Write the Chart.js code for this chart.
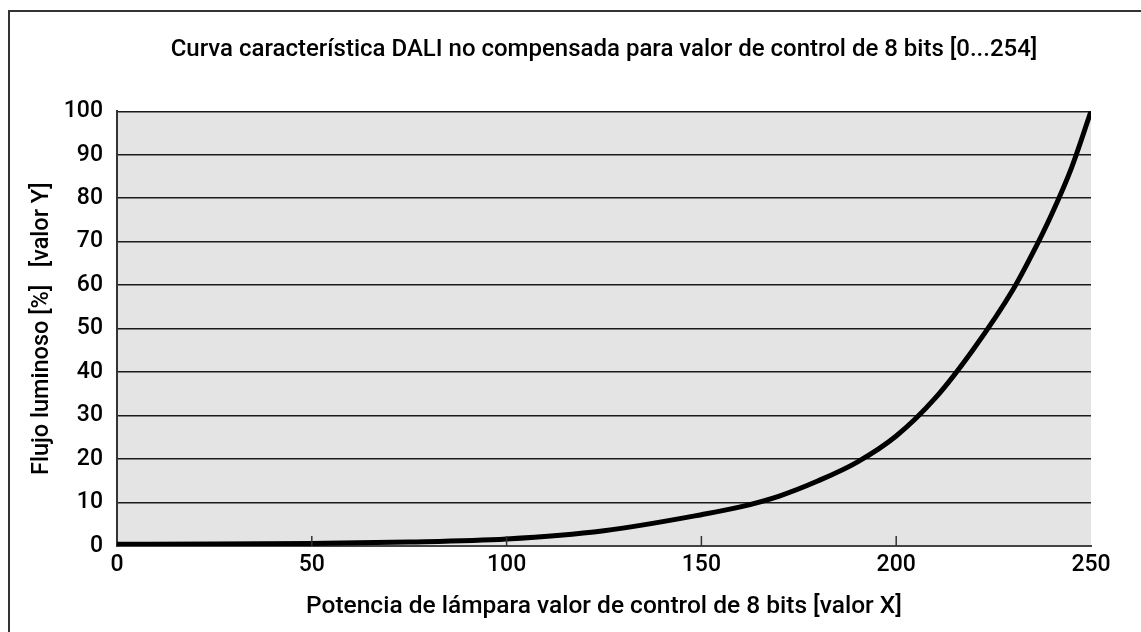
<!DOCTYPE html>
<html>
<head>
<meta charset="utf-8">
<title>Curva característica DALI</title>
<script src="https://cdn.jsdelivr.net/npm/chart.js@4"></script>
<style>
  html, body { margin: 0; padding: 0; background: #fff; overflow: hidden; }
  #frame {
    position: absolute; left: 8px; top: 10px; width: 1300px; height: 800px;
    border-left: 2px solid #333; border-top: 2px solid #333;
  }
  #chart { position: absolute; left: 0; top: 0; }
</style>
</head>
<body>
<div id="frame"></div>
<canvas id="chart" width="1141" height="632"></canvas>
<script>
// valor de control (X) y flujo luminoso en % (Y)
const controlValues = [0, 25, 50, 75, 100, 125, 150, 160, 170, 180, 190, 200, 210, 220, 230, 235, 240, 245, 250];
const luminousFlux = [0.4, 0.45, 0.6, 0.9, 1.6, 3.5, 7.2, 9.0, 11.5, 15, 19.3, 25.3, 34, 45.5, 59, 67.3, 76.5, 87, 100];

const xTicks = [0, 50, 100, 150, 200, 250];
const yTicks = [0, 10, 20, 30, 40, 50, 60, 70, 80, 90, 100];

const chartTitle = 'Curva característica DALI no compensada para valor de control de 8 bits [0...254]';
const xTitle = 'Potencia de lámpara valor de control de 8 bits [valor X]';
const yTitle = 'Flujo luminoso [%]   [valor Y]';

const FONT = "Roboto, 'Liberation Sans', Arial, sans-serif";

const points = controlValues.map((x, i) => ({ x: x, y: luminousFlux[i] }));

// fondo gris del área del gráfico
const plotBackground = {
  id: 'plotBackground',
  beforeDraw(chart) {
    const { ctx, chartArea } = chart;
    ctx.save();
    ctx.fillStyle = '#e4e4e4';
    ctx.fillRect(chartArea.left, chartArea.top, chartArea.right - chartArea.left, chartArea.bottom - chartArea.top);
    ctx.restore();
  }
};

// marcas cortas hacia dentro en el eje X
const innerTicks = {
  id: 'innerTicks',
  afterDatasetsDraw(chart) {
    const { ctx, chartArea, scales } = chart;
    const ticks = scales.x.ticks;
    ctx.save();
    ctx.strokeStyle = '#333';
    ctx.lineWidth = 1.5;
    ticks.forEach((t, i) => {
      if (i === 0 || i === ticks.length - 1) return;
      const px = scales.x.getPixelForValue(t.value);
      ctx.beginPath();
      ctx.moveTo(px, chartArea.bottom);
      ctx.lineTo(px, chartArea.bottom - 10);
      ctx.stroke();
    });
    ctx.restore();
  }
};

const ctx = document.getElementById('chart').getContext('2d');
new Chart(ctx, {
  type: 'scatter',
  data: {
    datasets: [{
      data: points,
      showLine: true,
      borderColor: '#000',
      borderWidth: 5,
      pointRadius: 0,
      cubicInterpolationMode: 'monotone'
    }]
  },
  options: {
    responsive: false,
    animation: false,
    layout: { padding: { left: 0, right: 50, top: 0, bottom: 0 } },
    plugins: {
      legend: { display: false },
      tooltip: { enabled: false },
      title: {
        display: true,
        text: chartTitle,
        fullSize: false,
        color: '#000',
        font: { family: FONT, size: 24, weight: '500' },
        padding: { top: 35.5, bottom: 47 }
      }
    },
    scales: {
      x: {
        type: 'linear',
        min: 0,
        max: 250,
        afterBuildTicks(scale) { scale.ticks = xTicks.map(v => ({ value: v })); },
        afterFit(scale) { scale.height = 86; },
        grid: { display: false, drawTicks: false },
        border: { display: true, color: '#444', width: 2 },
        ticks: {
          color: '#000',
          padding: 5,
          font: { family: FONT, size: 23, weight: '500' }
        },
        title: {
          display: true,
          text: xTitle,
          color: '#000',
          font: { family: FONT, size: 24.5, weight: '500' },
          padding: { top: 0, bottom: 10 }
        }
      },
      y: {
        min: 0,
        max: 100,
        afterBuildTicks(scale) { scale.ticks = yTicks.map(v => ({ value: v })); },
        afterFit(scale) { scale.width = 117; },
        grid: { color: '#1a1a1a', lineWidth: 1.5, drawTicks: false },
        border: { display: true, color: '#333', width: 2 },
        ticks: {
          color: '#000',
          padding: 14,
          font: { family: FONT, size: 23, weight: '500' }
        },
        title: {
          display: true,
          text: yTitle,
          color: '#000',
          font: { family: FONT, size: 23.5, weight: '500' },
          padding: { top: 28.5, bottom: 0 }
        }
      }
    }
  },
  plugins: [plotBackground, innerTicks]
});
</script>
</body>
</html>
